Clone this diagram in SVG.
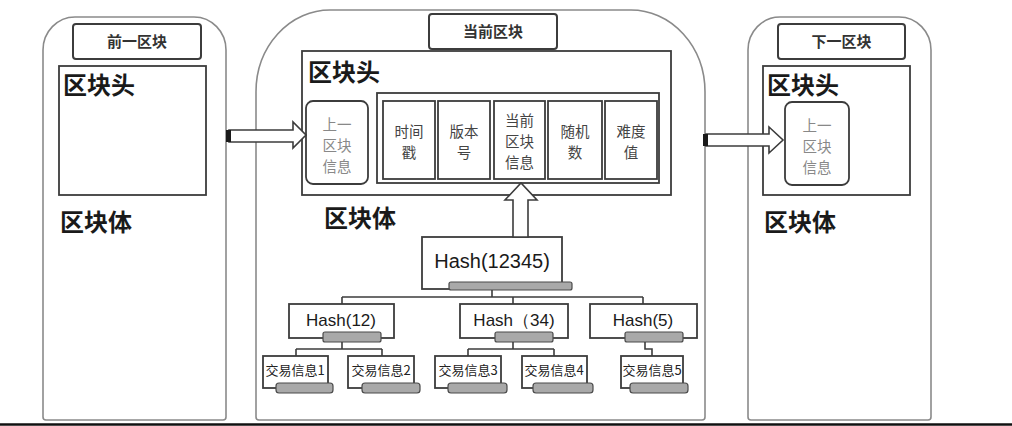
<svg xmlns="http://www.w3.org/2000/svg" width="1012" height="426" viewBox="0 0 1012 426">
<style>
.outer{fill:#fff;stroke:#8a8a8a;stroke-width:1.6}
.box{fill:#fff;stroke:#3c3c3c;stroke-width:1.8}
.title{fill:#fff;stroke:#3c3c3c;stroke-width:2}
.cell{fill:#fff;stroke:#3c3c3c;stroke-width:1.8}
.bar{fill:#a9a9a9;stroke:#4a4a4a;stroke-width:1.2}
.line{fill:none;stroke:#3c3c3c;stroke-width:1.6}
.arrow{fill:#fff;stroke:#3c3c3c;stroke-width:1.6}
.h{font-family:"Noto Sans CJK SC","Noto Sans",sans-serif;font-weight:bold;font-size:24px;fill:#1a1a1a}
.t{font-family:"Noto Sans CJK SC",sans-serif;font-weight:bold;font-size:15px;fill:#333;text-anchor:middle}
.c{font-family:"Noto Sans CJK SC",sans-serif;font-size:14.5px;fill:#444;text-anchor:middle}
.g{font-family:"Noto Sans CJK SC",sans-serif;font-size:14.5px;fill:#888;text-anchor:middle}
.hs{font-family:"Liberation Sans","Noto Sans",sans-serif;fill:#1a1a1a;text-anchor:middle}
.tx{font-family:"Noto Sans CJK SC",sans-serif;font-size:13px;fill:#222;text-anchor:middle}
</style>

<g id="prev-block">
  <path class="outer" d="M43,417 V50 A32,33 0 0 1 75,17 H194 A32,33 0 0 1 226,50 V417 A3,3 0 0 1 223,420 H46 A3,3 0 0 1 43,417 Z"/>
  <rect class="title" x="73" y="24" width="128" height="35" rx="3"/>
  <text class="t" x="137" y="47">前一区块</text>
  <rect class="box" x="59" y="66" width="147" height="129"/>
  <text class="h" x="63" y="94">区块头</text>
  <text class="h" x="60" y="231">区块体</text>
</g>

<g id="current-block">
  <path class="outer" d="M256,417 V92 A74,82 0 0 1 330,10 H631 A74,82 0 0 1 705,92 V417 A3,3 0 0 1 702,420 H259 A3,3 0 0 1 256,417 Z"/>
  <rect class="title" x="429" y="14" width="128" height="35" rx="3"/>
  <text class="t" x="493" y="37">当前区块</text>
  <rect class="box" x="302" y="51" width="369" height="144"/>
  <text class="h" x="308" y="81">区块头</text>
  <rect class="box" x="306" y="101" width="62" height="83" rx="7"/>
  <text class="g" x="337" y="130">上一<tspan x="337" dy="21">区块</tspan><tspan x="337" dy="21">信息</tspan></text>
  <rect class="box" x="377" y="93" width="282" height="90"/>
  <rect class="cell" x="383" y="101" width="52" height="78"/>
  <rect class="cell" x="438" y="101" width="52" height="78"/>
  <rect class="cell" x="494" y="101" width="51" height="78"/>
  <rect class="cell" x="548" y="101" width="54" height="78"/>
  <rect class="cell" x="605" y="101" width="52" height="78"/>
  <text class="c" x="409" y="137">时间<tspan x="409" dy="21">戳</tspan></text>
  <text class="c" x="464" y="137">版本<tspan x="464" dy="21">号</tspan></text>
  <text class="c" x="519.5" y="126">当前<tspan x="519.5" dy="21">区块</tspan><tspan x="519.5" dy="21">信息</tspan></text>
  <text class="c" x="575" y="137">随机<tspan x="575" dy="21">数</tspan></text>
  <text class="c" x="631" y="137">难度<tspan x="631" dy="21">值</tspan></text>
  <text class="h" x="324" y="227">区块体</text>
</g>

<g id="next-block">
  <path class="outer" d="M748,417 V50 A32,33 0 0 1 780,17 H899 A32,33 0 0 1 931,50 V417 A3,3 0 0 1 928,420 H751 A3,3 0 0 1 748,417 Z"/>
  <rect class="title" x="778" y="24" width="127" height="35" rx="3"/>
  <text class="t" x="841.5" y="47">下一区块</text>
  <rect class="box" x="763" y="66" width="147" height="129"/>
  <text class="h" x="767" y="94">区块头</text>
  <rect class="box" x="785" y="102" width="64" height="83" rx="7"/>
  <text class="g" x="817" y="131">上一<tspan x="817" dy="21">区块</tspan><tspan x="817" dy="21">信息</tspan></text>
  <text class="h" x="764" y="231">区块体</text>
</g>

<g id="hash-12345">
  <rect class="box" x="422" y="237" width="140" height="52"/>
  <text class="hs" x="492" y="268" font-size="20">Hash(12345)</text>
  <rect class="bar" x="449" y="282" width="123" height="8" rx="2"/>
</g>
<g id="hash-12">
  <rect class="box" x="289" y="304" width="105" height="34"/>
  <text class="hs" x="341" y="326" font-size="17">Hash(12)</text>
  <rect class="bar" x="323" y="332" width="58" height="10" rx="2"/>
</g>
<g id="hash-34">
  <rect class="box" x="460" y="304" width="108" height="34"/>
  <text class="hs" x="514" y="326" font-size="17">Hash（34)</text>
  <rect class="bar" x="495" y="332" width="58" height="10" rx="2"/>
</g>
<g id="hash-5">
  <rect class="box" x="590" y="304" width="107" height="34"/>
  <text class="hs" x="643" y="326" font-size="17">Hash(5)</text>
  <rect class="bar" x="625" y="332" width="58" height="10" rx="2"/>
</g>
<g id="tx1">
  <rect class="box" x="263" y="356" width="65" height="32"/>
  <text class="tx" x="295" y="375">交易信息1</text>
  <rect class="bar" x="276" y="383" width="57" height="10" rx="3"/>
</g>
<g id="tx2">
  <rect class="box" x="348" y="356" width="66" height="32"/>
  <text class="tx" x="381" y="375">交易信息2</text>
  <rect class="bar" x="362" y="383" width="58" height="10" rx="3"/>
</g>
<g id="tx3">
  <rect class="box" x="435" y="356" width="66" height="32"/>
  <text class="tx" x="468" y="375">交易信息3</text>
  <rect class="bar" x="448" y="383" width="59" height="10" rx="3"/>
</g>
<g id="tx4">
  <rect class="box" x="522" y="356" width="65" height="32"/>
  <text class="tx" x="554" y="375">交易信息4</text>
  <rect class="bar" x="533" y="383" width="60" height="10" rx="3"/>
</g>
<g id="tx5">
  <rect class="box" x="621" y="356" width="62" height="32"/>
  <text class="tx" x="652" y="375">交易信息5</text>
  <rect class="bar" x="630" y="383" width="58" height="10" rx="3"/>
</g>

<g id="connectors">
  <path class="line" d="M492,290 V297 M342,297 H643 M342,297 V304 M513,297 V304 M643,297 V304"/>
  <path class="line" d="M342,342 V349 M296,349 H382 M296,349 V356 M382,349 V356"/>
  <path class="line" d="M513,342 V349 M468,349 H554 M468,349 V356 M554,349 V356"/>
  <path class="line" d="M645,342 V349 H652 V356"/>
  <path class="arrow" d="M229,130 H293 V122 L306,135 L293,148 V142 H229 Z"/>
  <rect x="226" y="130" width="5" height="12" fill="#1a1a1a"/>
  <path class="arrow" d="M706,134 H769 V127 L783,140 L769,153 V146 H706 Z"/>
  <rect x="703" y="134" width="5" height="12" fill="#1a1a1a"/>
  <path class="arrow" d="M513,237 V200 H505 L521,183 L537,200 H528 V237 Z"/>
  <line x1="0" y1="424.5" x2="1012" y2="424.5" stroke="#111" stroke-width="2.5"/>
</g>
</svg>
